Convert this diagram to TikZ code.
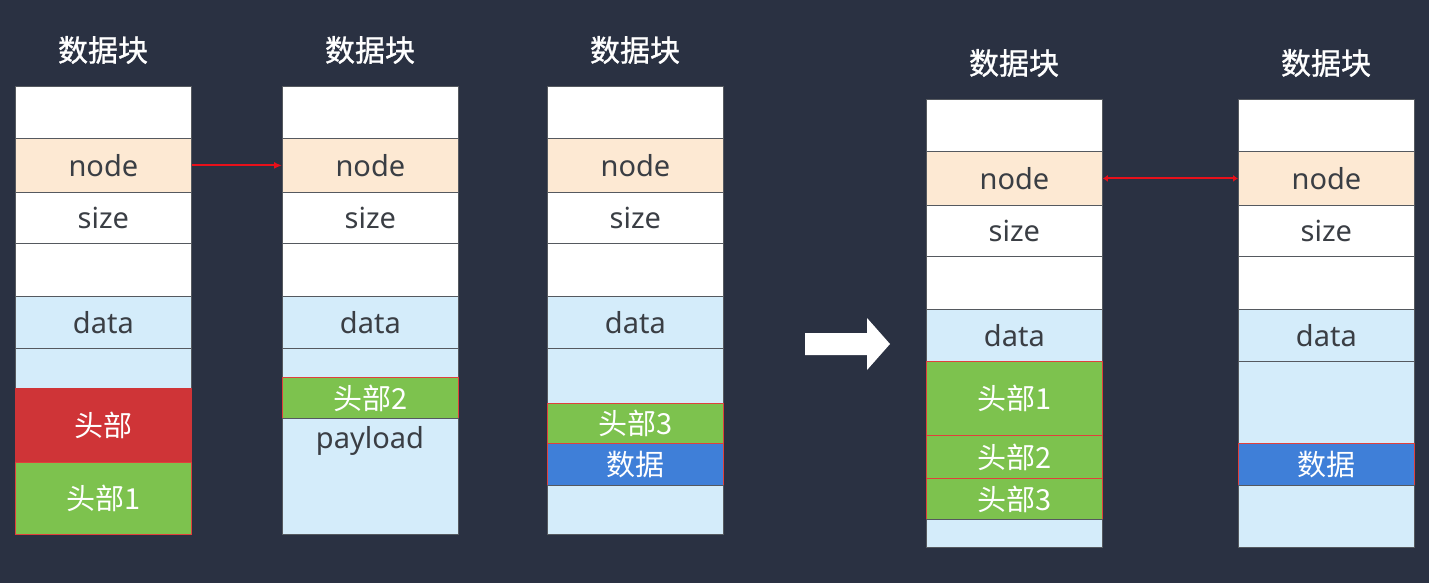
\documentclass[tikz,border=0pt]{standalone}
\usepackage{fontspec}
\setmainfont{Noto Sans}
\newfontfamily\cjk{Noto Sans CJK SC}
\newfontfamily\cjkheavy[FakeBold=1]{Noto Sans CJK SC}
\usetikzlibrary{positioning,arrows.meta}
\definecolor{bgnavy}{HTML}{2A3142}
\definecolor{pale}{HTML}{D4ECFA}
\definecolor{peach}{HTML}{FDE9D3}
\definecolor{hdrred}{HTML}{CF3437}
\definecolor{hdrgreen}{HTML}{7DC24E}
\definecolor{datablue}{HTML}{3F7FD8}
\definecolor{rowline}{HTML}{55595F}
\definecolor{celltext}{HTML}{3A3E44}
\definecolor{edgered}{HTML}{E0403C}
\definecolor{linkred}{HTML}{E8101A}

\begin{document}
\begin{tikzpicture}[x=1pt,y=-1pt,
  cell/.style={rectangle, anchor=north west, minimum width=176pt, inner sep=0pt,
    draw=rowline, line width=0.8pt, text=celltext, font=\fontsize{29}{32}\selectfont},
  hdr/.style={cell, draw=edgered, line width=1pt, text=white, font=\cjk\fontsize{29}{32}\selectfont},
  title/.style={text=white, font=\cjkheavy\fontsize{30}{33}\selectfont},
  link/.style={draw=linkred, line width=2pt}]
  \fill[bgnavy] (0,0) rectangle (1429,583);
  \useasboundingbox (0,0) rectangle (1429,583);
  % upper rows, same in every block
  \foreach \x/\y/\b in {15/86/a,282/86/b,547/86/c,926/99/d,1238/99/e}{
    \node[title] (\b-title) at (\x+88,\y-36) {数据块};
    \node[cell, fill=white, minimum height=52pt] (\b-top) at (\x,\y) {};
    \node[cell, fill=peach, minimum height=54pt] (\b-node) at (\x,\y+52) {node};
    \node[cell, fill=white, minimum height=51pt] (\b-size) at (\x,\y+106) {size};
    \node[cell, fill=white, minimum height=53pt] (\b-gap) at (\x,\y+157) {};
    \node[cell, fill=pale, minimum height=52pt] (\b-data) at (\x,\y+210) {data};
  }
  % block a
  \node[cell, fill=pale, minimum height=40pt] (a-free) at (15,348) {};
  \node[hdr, fill=hdrred, draw=hdrred, minimum height=74pt] (a-hdr) at (15,388) {头部};
  \node[hdr, fill=hdrgreen, minimum height=72pt] (a-hdr1) at (15,462) {头部1};
  % block b
  \node[cell, fill=pale, minimum height=29pt] (b-free) at (282,348) {};
  \node[hdr, fill=hdrgreen, minimum height=41pt] (b-hdr2) at (282,377) {头部2};
  \node[cell, fill=pale, minimum height=116pt] (b-rest) at (282,418) {};
  \node[text=celltext, font=\fontsize{29}{32}\selectfont] (b-payload) at (370,441) {payload};
  % block c
  \node[cell, fill=pale, minimum height=55pt] (c-free) at (547,348) {};
  \node[hdr, fill=hdrgreen, minimum height=40pt] (c-hdr3) at (547,403) {头部3};
  \node[hdr, fill=datablue, minimum height=42pt] (c-body) at (547,443) {数据};
  \node[cell, fill=pale, minimum height=49pt] (c-rest) at (547,485) {};
  % block d
  \node[hdr, fill=hdrgreen, minimum height=74pt] (d-hdr1) at (926,361) {头部1};
  \node[hdr, fill=hdrgreen, minimum height=43pt] (d-hdr2) at (926,435) {头部2};
  \node[hdr, fill=hdrgreen, minimum height=41pt] (d-hdr3) at (926,478) {头部3};
  \node[cell, fill=pale, minimum height=28pt] (d-rest) at (926,519) {};
  % block e
  \node[cell, fill=pale, minimum height=82pt] (e-free) at (1238,361) {};
  \node[hdr, fill=datablue, minimum height=42pt] (e-body) at (1238,443) {数据};
  \node[cell, fill=pale, minimum height=62pt] (e-rest) at (1238,485) {};
  % links
  \draw[link, -{Latex[length=8pt,width=7pt]}] (a-node.east) -- (b-node.west);
  \draw[link, {Latex[length=5pt,width=7pt]}-{Latex[length=5pt,width=7pt]}] (d-node.east) -- (e-node.west);
  \fill[white] (805,333) -- (867,333) -- (867,318) -- (890,344) -- (867,370) -- (867,355) -- (805,355) -- cycle;
\end{tikzpicture}
\end{document}
